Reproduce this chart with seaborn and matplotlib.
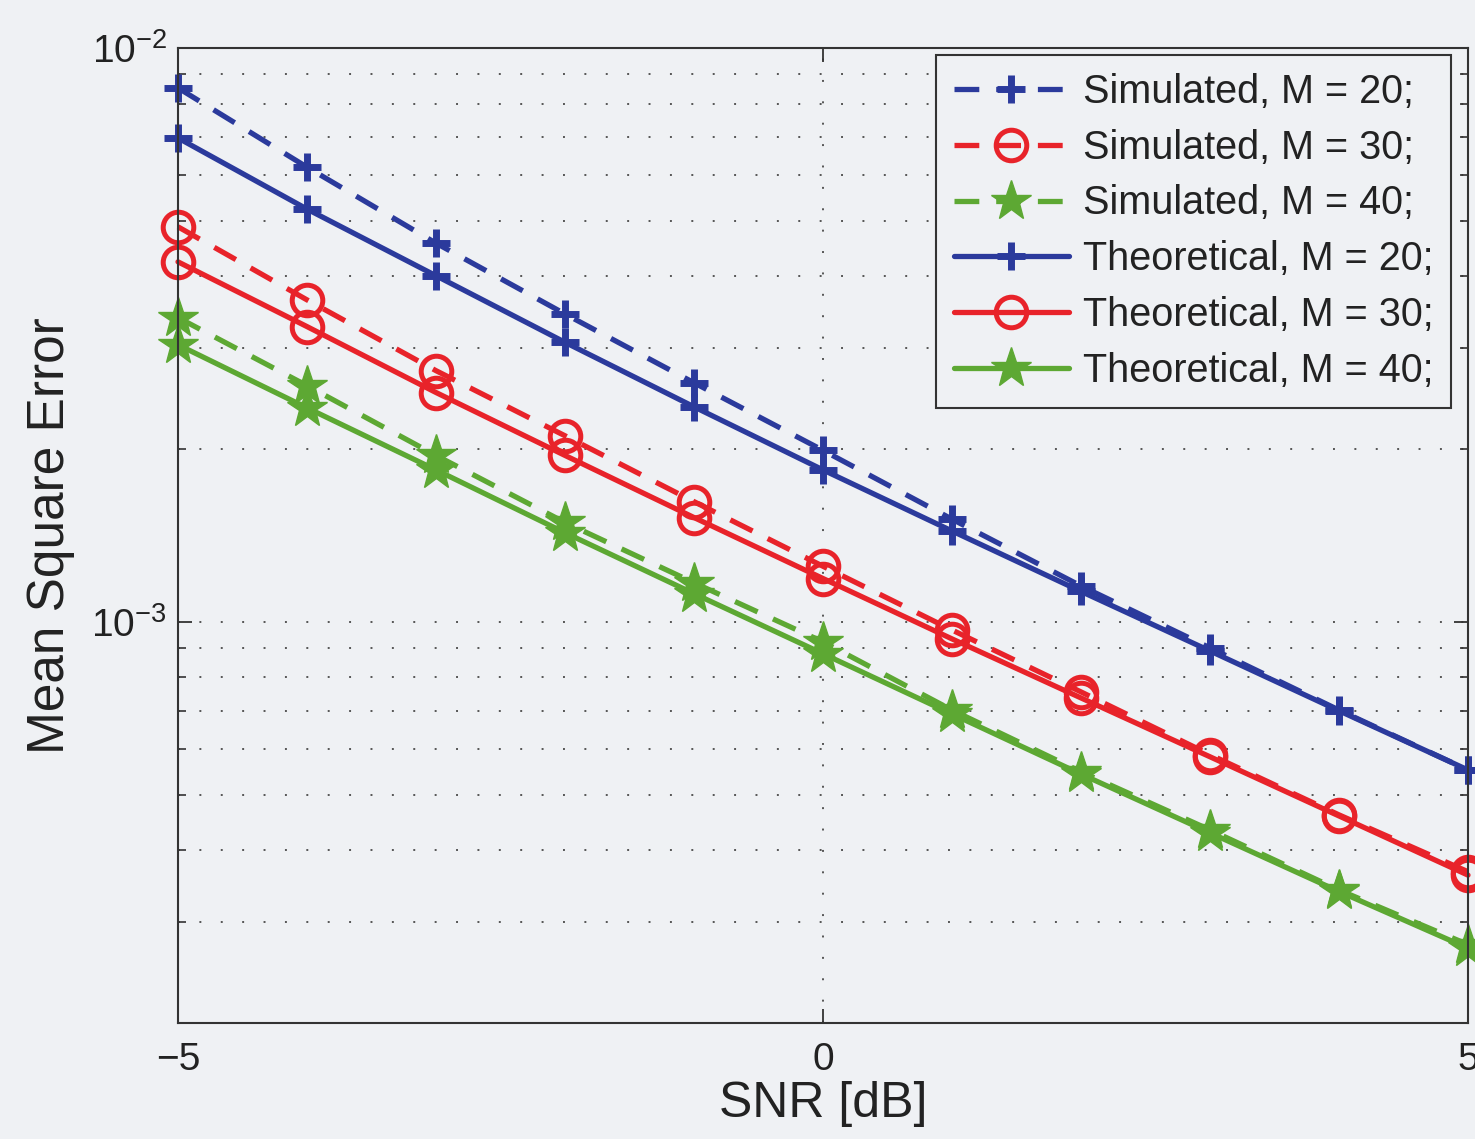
import numpy as np
import pandas as pd
import matplotlib
matplotlib.use("Agg")
import matplotlib.pyplot as plt
import matplotlib.ticker as mticker
import seaborn as sns

snr_db = [-5, -4, -3, -2, -1, 0, 1, 2, 3, 4, 5]

sim_m20 = [0.00852, 0.00620, 0.00457, 0.00344, 0.00261, 0.00199, 0.00151, 0.001155, 0.000901, 0.000702, 0.000552]
sim_m30 = [0.00488, 0.00364, 0.00274, 0.00211, 0.00162, 0.00125, 0.000968, 0.000755, 0.000587, 0.000461, 0.000367]
sim_m40 = [0.00339, 0.00258, 0.00195, 0.00149, 0.00117, 0.000923, 0.000702, 0.000548, 0.000434, 0.000341, 0.000274]
theo_m20 = [0.00697, 0.00524, 0.00401, 0.00307, 0.00237, 0.00184, 0.00144, 0.00113, 0.000890, 0.000700, 0.000552]
theo_m30 = [0.00424, 0.00327, 0.00251, 0.00195, 0.00152, 0.00119, 0.000934, 0.000737, 0.000582, 0.000459, 0.000362]
theo_m40 = [0.00304, 0.00236, 0.00184, 0.00143, 0.00112, 0.000880, 0.000691, 0.000543, 0.000429, 0.000339, 0.000270]

labels = ["Simulated, M = 20;", "Simulated, M = 30;", "Simulated, M = 40;",
          "Theoretical, M = 20;", "Theoretical, M = 30;", "Theoretical, M = 40;"]
series = [sim_m20, sim_m30, sim_m40, theo_m20, theo_m30, theo_m40]

sns.set_theme(style="white")
plt.rcParams['font.family'] = ['Liberation Sans', 'DejaVu Sans']
plt.rcParams['mathtext.fontset'] = 'custom'
plt.rcParams['mathtext.rm'] = 'Liberation Sans'
plt.rcParams['mathtext.it'] = 'Liberation Sans'

BG = '#eff1f4'
BLUE = '#2b3a9c'
RED = '#e8232a'
GREEN = '#5da833'

fig = plt.figure(figsize=(14.75, 11.39), dpi=100, facecolor=BG)
ax = fig.add_axes([178/1475, 1 - 1023/1139, (1468 - 178)/1475, (1023 - 48)/1139])
ax.set_facecolor(BG)

colors = [BLUE, RED, GREEN, BLUE, RED, GREEN]
markers = ['+', 'o', '*', '+', 'o', '*']
msizes = [20, 22, 30, 20, 22, 30]
LW = 3.8
dashed = (0, (4.7, 3.2))

for i, (lab, vals) in enumerate(zip(labels, series)):
    df = pd.DataFrame({"snr": snr_db, "mse": vals})
    ls = dashed if i < 3 else '-'
    mk = markers[i]
    kw = dict(marker=mk, markersize=msizes[i], color=colors[i], linewidth=LW,
              linestyle=ls, clip_on=False)
    if mk == 'o':
        kw.update(markerfacecolor='none', markeredgecolor=colors[i], markeredgewidth=3.6)
    elif mk == '+':
        kw.update(markeredgewidth=5.0, markeredgecolor=colors[i])
    else:
        kw.update(markeredgecolor=colors[i], markerfacecolor=colors[i], markeredgewidth=1)
    sns.lineplot(data=df, x="snr", y="mse", ax=ax, label=lab, legend=False, **kw)

ax.set_yscale('log')
ax.set_xlim(-5, 5)
ax.set_ylim(2e-4, 1e-2)
ax.set_xticks([-5, 0, 5])
ax.set_xticklabels(['\u22125', '0', '5'])
ax.yaxis.set_major_locator(mticker.LogLocator(base=10, numticks=10))
ax.yaxis.set_minor_locator(mticker.LogLocator(base=10, subs=np.arange(2, 10), numticks=20))
ax.yaxis.set_minor_formatter(mticker.NullFormatter())

ax.grid(True, which='major', axis='both', linestyle=(0, (1, 10)), linewidth=1.4, color='#555555')
ax.grid(True, which='minor', axis='y', linestyle=(0, (1, 10)), linewidth=1.4, color='#555555')

for s in ax.spines.values():
    s.set_visible(True)
    s.set_color('#333333')
    s.set_linewidth(1.5)

ax.tick_params(which='both', direction='in', top=True, right=True, bottom=True, left=True,
               color='#333333', labelsize=28, labelcolor='#222222')
ax.tick_params(which='major', length=10, width=1.3)
ax.tick_params(which='minor', length=6, width=1.2)
ax.tick_params(axis='x', which='major', pad=14)
ax.tick_params(axis='y', which='major', pad=8)

ax.set_xlabel('SNR [dB]', fontsize=36, color='#222222', labelpad=2)
ax.set_ylabel('Mean Square Error', fontsize=37, color='#222222', labelpad=12)

h, l = ax.get_legend_handles_labels()
leg = ax.legend(h, l, loc='upper right', bbox_to_anchor=(1451/1475, 1 - 55/1139),
                bbox_transform=fig.transFigure, fontsize=28.5, frameon=True, fancybox=False,
                edgecolor='#333333', facecolor=BG, framealpha=1, handlelength=2.9,
                handletextpad=0.35, labelspacing=0.45, borderpad=0.45, borderaxespad=0)
leg.get_frame().set_linewidth(1.5)
for t in leg.get_texts():
    t.set_color('#222222')

fig.savefig('out.png', dpi=100, facecolor=BG)
